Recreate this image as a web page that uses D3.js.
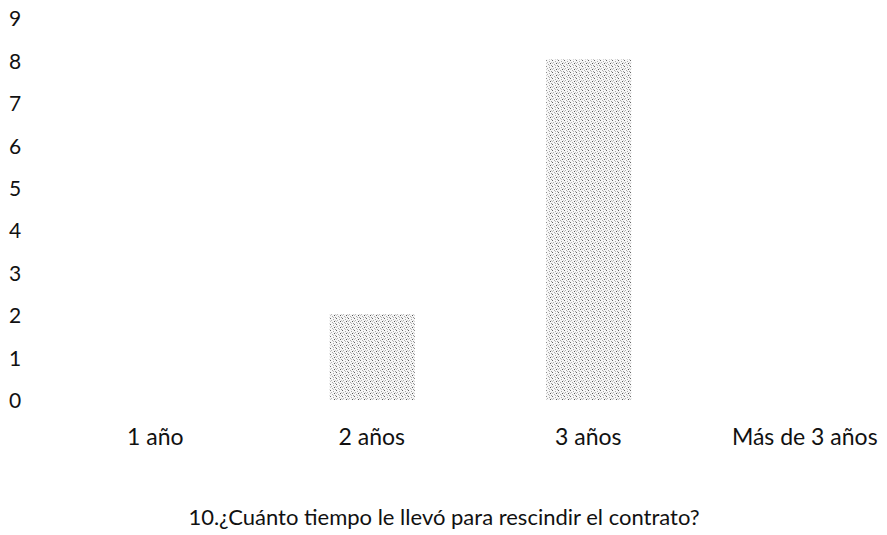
<!DOCTYPE html>
<html><head><meta charset="utf-8">
<script src="https://cdn.jsdelivr.net/npm/d3@7"></script>
<style>body{margin:0;background:#fff}svg{display:block}</style>
</head><body>
<script>
const categories = ["1 año", "2 años", "3 años", "Más de 3 años"];
const values = [0, 2, 8, 0];
const yTicks = [0,1,2,3,4,5,6,7,8,9];
const title = "10.¿Cuánto tiempo le llevó para rescindir el contrato?";

const W = 887, H = 535;
const svg = d3.select("body").append("svg").attr("width", W).attr("height", H);
const font = "Lato, 'Open Sans', sans-serif";

// dither-like pattern
const defs = svg.append("defs");
const pat = defs.append("pattern").attr("id","dots").attr("patternUnits","userSpaceOnUse")
  .attr("width",6).attr("height",6);
pat.append("rect").attr("width",6).attr("height",6).attr("fill","#f6f6f6");
const cells = [[0,0,"#666"],[3,1,"#aaa"],[1,2,"#b4b4b4"],[4,3,"#555"],[2,4,"#aaa"],[5,5,"#999"],[0,3,"#c4c4c4"],[3,5,"#bbb"],[5,2,"#ccc"]];
cells.forEach(c => pat.append("rect").attr("x",c[0]).attr("y",c[1]).attr("width",1).attr("height",1).attr("fill",c[2]));

const xc = d3.scaleBand().domain(categories).range([47, 913]);
const y = d3.scaleLinear().domain([0, 9]).range([401, 19]);

const yAxis = d3.axisLeft(y).tickValues(yTicks).tickSize(0).tickPadding(0).tickFormat(d3.format("d"));
const gy = svg.append("g").attr("transform","translate(21,0)").call(yAxis);
gy.select(".domain").remove();
gy.selectAll("text").attr("font-family",font).attr("font-size",21).attr("fill","#111").attr("text-anchor","middle").attr("dx",-6);

const xAxis = d3.axisBottom(xc).tickSize(0).tickPadding(0);
const gx = svg.append("g").attr("transform","translate(0,429)").call(xAxis);
gx.select(".domain").remove();
gx.selectAll("text").attr("font-family",font).attr("font-size",23).attr("fill","#111");

svg.append("g").selectAll("rect").data(categories.map((c,i)=>({c, v: values[i]})).filter(d=>d.v>0))
  .join("rect")
  .attr("x", d => xc(d.c) + xc.bandwidth()/2 - 42)
  .attr("width", 85)
  .attr("y", d => y(d.v) - 2)
  .attr("height", d => y(0) - y(d.v) + 1)
  .attr("fill","url(#dots)");

svg.append("text").attr("x", 444).attr("y", 525).attr("text-anchor","middle")
  .attr("font-family",font).attr("font-size",22).attr("fill","#111").text(title);
</script>
</body></html>
